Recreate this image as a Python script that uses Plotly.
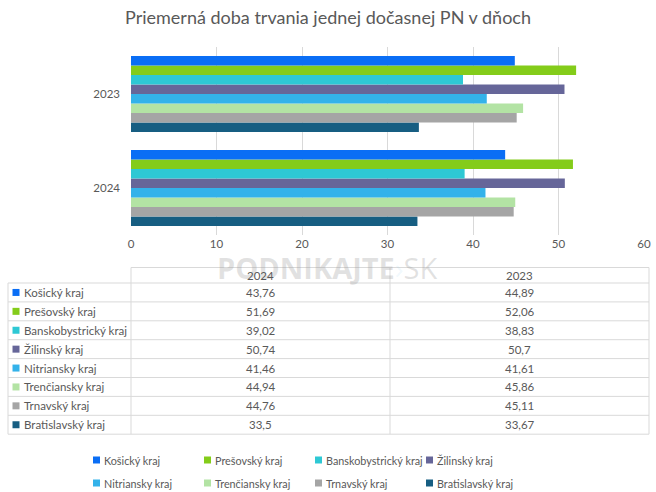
import plotly.graph_objects as go

regions = ["Košický kraj", "Prešovský kraj", "Banskobystrický kraj", "Žilinský kraj",
           "Nitriansky kraj", "Trenčiansky kraj", "Trnavský kraj", "Bratislavský kraj"]
years = ["2024", "2023"]
values_2024 = [43.76, 51.69, 39.02, 50.74, 41.46, 44.94, 44.76, 33.5]
values_2023 = [44.89, 52.06, 38.83, 50.7, 41.61, 45.86, 45.11, 33.67]
colors = ["#0A6EF5", "#84CC1A", "#2EC8D4", "#666699", "#33B2EA", "#B3E3A4", "#A5A5A5", "#175E82"]
x_ticks = [0, 10, 20, 30, 40, 50, 60]
title = "Priemerná doba trvania jednej dočasnej PN v dňoch"

W, H = 656, 492
L, R, T, B = 131, 644, 47, 235
FONT = "Lato"
GRAY = "#595959"
LINE = "#D9D9D9"


def px(xp):
    return (xp - L) / (R - L)


def py(yp):
    return (B - yp) / (B - T)


def fmt(v):
    s = f"{v:.2f}".rstrip("0").rstrip(".")
    return s.replace(".", ",")


fig = go.Figure()
for i in reversed(range(len(regions))):
    fig.add_trace(go.Bar(
        y=years, x=[values_2024[i], values_2023[i]], name=regions[i],
        orientation="h", marker=dict(color=colors[i], line=dict(width=0)),
        showlegend=False,
    ))

shapes = []
annotations = []

# watermark
annotations.append(dict(
    x=px(327), y=py(267), xref="paper", yref="paper", showarrow=False,
    text="<b>PODNIKAJTE</b><span style='color:rgba(120,200,240,0.4)'>›</span>SK",
    font=dict(family="Open Sans", size=29, color="rgba(150,150,150,0.28)"),
    xanchor="center", yanchor="middle"))

# table
row_top = 283.0
row_h = 18.9
hdr_top = 267.5
tl, c1, c2, tr = 8, 131, 390, 649
n = len(regions)
bottom = row_top + n * row_h
TS = 11.5
for (x0, y0, x1, y1) in [
    (c1, hdr_top, tr, hdr_top),
    (tl, row_top, tr, row_top),
    (tl, bottom, tr, bottom),
]:
    shapes.append(dict(type="line", xref="paper", yref="paper", x0=px(x0), x1=px(x1),
                       y0=py(y0), y1=py(y1), line=dict(color=LINE, width=1)))
for k in range(1, n):
    yy = row_top + k * row_h
    shapes.append(dict(type="line", xref="paper", yref="paper", x0=px(tl), x1=px(tr),
                       y0=py(yy), y1=py(yy), line=dict(color=LINE, width=1)))
for xx, ytop in [(tl, row_top), (c1, hdr_top), (c2, hdr_top), (tr, hdr_top)]:
    shapes.append(dict(type="line", xref="paper", yref="paper", x0=px(xx), x1=px(xx),
                       y0=py(ytop), y1=py(bottom), line=dict(color=LINE, width=1)))

for j, yr in enumerate(years):
    cx = (c1 + c2) / 2 if j == 0 else (c2 + tr) / 2
    annotations.append(dict(x=px(cx), y=py((hdr_top + row_top) / 2), xref="paper", yref="paper",
                            text=yr, showarrow=False, xanchor="center", yanchor="middle",
                            font=dict(family=FONT, size=TS, color=GRAY)))

for i, reg in enumerate(regions):
    cy = row_top + (i + 0.5) * row_h
    shapes.append(dict(type="rect", xref="paper", yref="paper", x0=px(12.5), x1=px(19.5),
                       y0=py(cy - 3.5), y1=py(cy + 3.5), fillcolor=colors[i], line=dict(width=0)))
    annotations.append(dict(x=px(21.5), y=py(cy), xref="paper", yref="paper", text=reg,
                            showarrow=False, xanchor="left", yanchor="middle",
                            font=dict(family=FONT, size=TS, color=GRAY)))
    annotations.append(dict(x=px((c1 + c2) / 2), y=py(cy), xref="paper", yref="paper",
                            text=fmt(values_2024[i]), showarrow=False, xanchor="center",
                            yanchor="middle", font=dict(family=FONT, size=TS, color=GRAY)))
    annotations.append(dict(x=px((c2 + tr) / 2), y=py(cy), xref="paper", yref="paper",
                            text=fmt(values_2023[i]), showarrow=False, xanchor="center",
                            yanchor="middle", font=dict(family=FONT, size=TS, color=GRAY)))

# legend
leg_x = [93, 204, 315, 426]
leg_y = [460, 483]
for i, reg in enumerate(regions):
    lx = leg_x[i % 4]
    ly = leg_y[i // 4]
    shapes.append(dict(type="rect", xref="paper", yref="paper", x0=px(lx), x1=px(lx + 7),
                       y0=py(ly - 3.5), y1=py(ly + 3.5), fillcolor=colors[i], line=dict(width=0)))
    annotations.append(dict(x=px(lx + 8.5), y=py(ly), xref="paper", yref="paper", text=reg,
                            showarrow=False, xanchor="left", yanchor="middle",
                            font=dict(family=FONT, size=10.8, color=GRAY)))

fig.update_layout(
    width=W, height=H,
    margin=dict(l=L, r=W - R, t=T, b=H - B, pad=0, autoexpand=False),
    paper_bgcolor="white", plot_bgcolor="white",
    barmode="group", bargap=0.19, bargroupgap=0,
    title=dict(text=title, x=0.5, xanchor="center", y=1 - 18 / H, yanchor="middle",
               font=dict(family=FONT, size=18, color=GRAY)),
    xaxis=dict(range=[0, 60], tickvals=x_ticks, showgrid=True, gridcolor=LINE, gridwidth=1,
               zeroline=False, showline=False, ticks="", automargin=False,
               tickfont=dict(family=FONT, size=11.5, color=GRAY), fixedrange=True),
    yaxis=dict(type="category", categoryorder="array", categoryarray=years,
               showgrid=False, zeroline=False, showline=False, ticks="", ticklabelstandoff=10,
               automargin=False, tickfont=dict(family=FONT, size=11.5, color=GRAY)),
    shapes=shapes, annotations=annotations, showlegend=False,
)

fig.write_html("out.html")
